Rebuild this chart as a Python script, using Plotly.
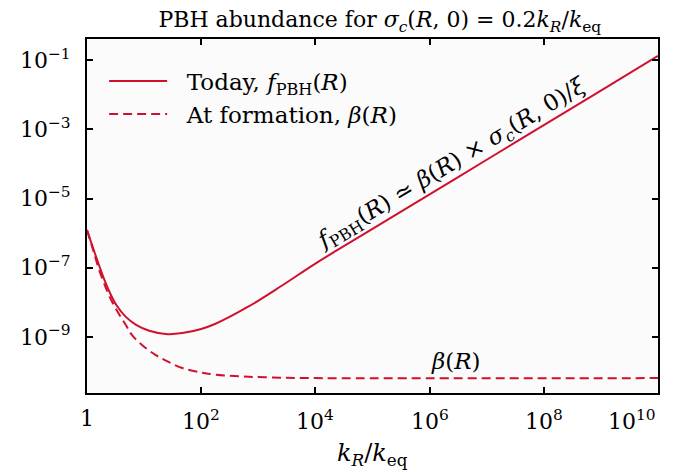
import plotly.graph_objects as go

# values (k_R / k_eq on x, abundance on y)
K_TODAY = [1, 1.26, 1.66, 1.91, 2.51, 3.24, 4.79, 7.24, 12.3, 25.7, 46.8, 100, 178, 676,
           2570, 1e4, 1e5, 1e6, 1e7, 1e8, 1e9, 1e10]
F_TODAY = [1.23e-6, 3.98e-7, 1.07e-7, 5.62e-8, 1.91e-8, 8.5e-9, 3.8e-9, 2.24e-9, 1.51e-9,
           1.20e-9, 1.29e-9, 1.70e-9, 2.40e-9, 7.59e-9, 3.02e-8, 1.32e-7, 1.32e-6, 1.32e-5,
           1.32e-4, 1.32e-3, 1.32e-2, 1.32e-1]

K_FORM = [1, 1.26, 1.66, 2.51, 3.24, 4.79, 6.31, 10, 15.8, 25.1, 46.8, 100, 178, 676,
          3160, 1e4, 1e10]
BETA_FORM = [1.23e-6, 3.55e-7, 7.94e-8, 1.41e-8, 6.31e-9, 2.2e-9, 1.07e-9, 5.2e-10, 3.02e-10,
             2.0e-10, 1.26e-10, 9.33e-11, 8.13e-11, 7.08e-11, 6.61e-11, 6.46e-11, 6.46e-11]

X_TICKS = [1, 1e2, 1e4, 1e6, 1e8, 1e10]
X_TICK_TEXT = ["1", "10<sup>2</sup>", "10<sup>4</sup>", "10<sup>6</sup>", "10<sup>8</sup>",
               "10<sup>10</sup>"]
Y_TICKS = [1e-1, 1e-3, 1e-5, 1e-7, 1e-9]
Y_TICK_TEXT = ["10<sup>−1</sup>", "10<sup>−3</sup>", "10<sup>−5</sup>", "10<sup>−7</sup>",
               "10<sup>−9</sup>"]

RED = "#d0112d"
FONT = "DejaVu Serif"

fig = go.Figure()

fig.add_trace(go.Scatter(
    x=K_TODAY, y=F_TODAY, mode="lines", line=dict(color=RED, width=2, shape="spline"),
    name="\u00a0\u00a0Today, <i>f</i><sub>PBH</sub>(<i>R</i>)"
))
fig.add_trace(go.Scatter(
    x=K_FORM, y=BETA_FORM, mode="lines",
    line=dict(color=RED, width=2, dash="9px,5px", shape="spline"),
    name="\u00a0\u00a0At formation, <i>β</i>(<i>R</i>)"
))

axis_common = dict(
    type="log", showline=True, linecolor="black", linewidth=2, mirror="ticks",
    ticks="inside", ticklen=6, tickwidth=1.5, tickcolor="black",
    showgrid=False, zeroline=False,
)
fig.update_xaxes(range=[0, 10], tickvals=X_TICKS, showticklabels=False, **axis_common)
fig.update_yaxes(range=[-10.62, -0.39], tickvals=Y_TICKS, ticktext=Y_TICK_TEXT,
                 ticklabelstandoff=10,
                 tickfont=dict(size=22, color="black", family=FONT), **axis_common)

# x tick labels (last one sits flush with the right edge, as in the original)
for i, (v, t) in enumerate(zip(X_TICKS, X_TICK_TEXT)):
    last = i == len(X_TICKS) - 1
    fig.add_annotation(x=len(str(int(v))) - 1, y=-0.03, xref="x", yref="paper",
                       text=t, showarrow=False, xanchor="right" if last else "center",
                       yanchor="top", font=dict(size=22, color="black", family=FONT))

fig.add_annotation(
    x=6.40, y=-4.0, xref="x", yref="y", textangle=-31, showarrow=False,
    text="<i>f</i><sub>PBH</sub>(<i>R</i>) ≃ <i>β</i>(<i>R</i>) × "
         "<i>σ</i><sub><i>c</i></sub>(<i>R</i>, 0)/<i>ξ</i>",
    font=dict(size=23, color="black", family=FONT)
)
fig.add_annotation(
    x=6.46, y=-9.70, xref="x", yref="y", showarrow=False,
    text="<i>β</i>(<i>R</i>)", font=dict(size=23, color="black", family=FONT)
)

# x axis title
fig.add_annotation(
    x=0.5, y=-0.125, xref="paper", yref="paper", showarrow=False, yanchor="top",
    text="<i>k</i><sub><i>R</i></sub>/<i>k</i><sub>eq</sub>",
    font=dict(size=24, family=FONT, color="black")
)

# the page body has an 8px margin, so the figure is shrunk by that much
fig.update_layout(
    width=676, height=464,
    margin=dict(l=76, r=26, t=31, b=79),
    paper_bgcolor="white", plot_bgcolor="#fbfbfb",
    font=dict(family=FONT, color="black"),
    title=dict(
        text="PBH abundance for <i>σ</i><sub><i>c</i></sub>(<i>R</i>, 0) = "
             "0.2<i>k</i><sub><i>R</i></sub>/<i>k</i><sub>eq</sub>",
        x=0.55, xanchor="center", y=0.975, yanchor="middle",
        font=dict(size=22, family=FONT, color="black")
    ),
    legend=dict(x=0.03, y=0.942, xanchor="left", yanchor="top", bgcolor="rgba(0,0,0,0)",
                itemwidth=58, font=dict(size=23, family=FONT, color="black")),
    showlegend=True,
)

fig.write_html("out.html")
